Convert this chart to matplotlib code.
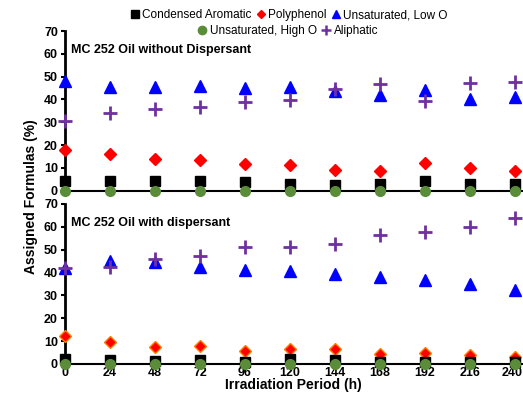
import matplotlib.pyplot as plt
import matplotlib.transforms as mtransforms
import numpy as np
from matplotlib.lines import Line2D

plt.rcParams['font.family'] = ['Liberation Sans', 'DejaVu Sans']

hours = [0, 24, 48, 72, 96, 120, 144, 168, 192, 216, 240]

# without dispersant
top_cond = [4.0, 4.4, 4.2, 4.0, 3.6, 3.0, 2.6, 3.0, 4.4, 3.0, 3.0]
top_poly = [17.9, 16.2, 14.0, 13.3, 11.8, 11.4, 9.1, 8.8, 12.0, 9.8, 8.8]
top_lowo = [48.2, 45.3, 45.6, 46.0, 45.0, 45.3, 43.9, 41.8, 44.2, 40.4, 41.2]
top_higho = [0, 0, 0, 0, 0, 0, 0, 0, 0, 0, 0]
top_aliph = [30.7, 34.2, 36.0, 36.6, 38.9, 39.8, 44.5, 46.7, 39.5, 47.4, 47.8]

# with dispersant
bot_cond = [2.3, 1.5, 1.4, 1.7, 0.9, 2.0, 1.5, 1.0, 1.0, 1.0, 1.0]
bot_poly = [12.2, 9.8, 7.6, 7.9, 5.8, 6.4, 6.7, 4.4, 4.7, 4.1, 3.2]
bot_lowo = [42.0, 45.1, 44.5, 42.6, 41.1, 40.8, 39.4, 37.9, 36.7, 35.1, 32.5]
bot_higho = [0, 0, 0, 0, 0, 0, 0, 0, 0, 0, 0]
bot_aliph = [42.0, 42.6, 45.8, 47.2, 51.2, 51.0, 52.5, 56.6, 57.6, 59.8, 63.7]

green = '#5b8c3a'
purple = '#7030a0'

fig = plt.figure(figsize=(5.23, 3.93), dpi=100)
ax1 = fig.add_axes([0.124, 0.515, 0.874, 0.406])
ax2 = fig.add_axes([0.124, 0.074, 0.874, 0.407])

def draw(ax, cond, poly, lowo, higho, aliph, poly_edge):
    ax.plot(hours, lowo, '^', color='#0000ff', ms=8, clip_on=False, zorder=3)
    ax.plot(hours, aliph, '+', color=purple, ms=10, mew=2, clip_on=False, zorder=4)
    ax.plot(hours, poly, 'D', color='#ff0000', mec=poly_edge, ms=6, clip_on=False, zorder=3)
    ax.plot(hours, cond, 's', color='black', ms=7.5, clip_on=False, zorder=3)
    ax.plot(hours, higho, 'o', color=green, ms=7, clip_on=False, zorder=5)
    ax.set_xlim(0, 243.7)
    ax.set_ylim(0, 70)
    ax.set_yticks(range(0, 71, 10))
    ax.set_xticks(hours)
    for s in ['top', 'right']:
        ax.spines[s].set_visible(False)
    ax.spines['left'].set_linewidth(2)
    ax.spines['bottom'].set_linewidth(1.5)
    ax.tick_params(axis='y', direction='out', length=3, width=1.5, labelsize=9, pad=2)
    ax.tick_params(axis='x', length=0, labelsize=9, pad=2.5)
    for lb in ax.get_yticklabels() + ax.get_xticklabels():
        lb.set_fontweight('bold')

draw(ax1, top_cond, top_poly, top_lowo, top_higho, top_aliph, '#ff0000')
draw(ax2, bot_cond, bot_poly, bot_lowo, bot_higho, bot_aliph, '#ff8000')
ax1.set_xticklabels([])

# nudge the last tick label so it stays inside the figure
last = ax2.get_xticklabels()[-1]
last.set_transform(last.get_transform() + mtransforms.ScaledTranslation(-3 / 100, 0, fig.dpi_scale_trans))

ax1.text(0.013, 0.86, 'MC 252 Oil without Dispersant', transform=ax1.transAxes,
         fontsize=9, fontweight='bold')
ax2.text(0.013, 0.86, 'MC 252 Oil with dispersant', transform=ax2.transAxes,
         fontsize=9, fontweight='bold')

fig.text(0.56, 0.002, 'Irradiation Period (h)', ha='center', va='bottom',
         fontsize=10, fontweight='bold')
fig.text(0.06, 0.5, 'Assigned Formulas (%)', rotation=90, ha='center', va='center',
         fontsize=10, fontweight='bold')

h1 = [Line2D([], [], ls='', marker='s', color='black', ms=6),
      Line2D([], [], ls='', marker='D', color='#ff0000', ms=4.5),
      Line2D([], [], ls='', marker='^', color='#0000ff', ms=6)]
h2 = [Line2D([], [], ls='', marker='o', color=green, ms=6),
      Line2D([], [], ls='', marker='+', color=purple, ms=7, mew=1.8)]
kw = dict(frameon=False, fontsize=8.5, handlelength=0.7, handletextpad=0.3,
          columnspacing=0.4, borderpad=0, loc='center')
fig.legend(h1, ['Condensed Aromatic', 'Polyphenol', 'Unsaturated, Low O'], ncol=3,
           bbox_to_anchor=(0.553, 0.961), **kw)
fig.legend(h2, ['Unsaturated, High O', 'Aliphatic'], ncol=2,
           bbox_to_anchor=(0.551, 0.921), **kw)

fig.savefig('out.png', dpi=100)
